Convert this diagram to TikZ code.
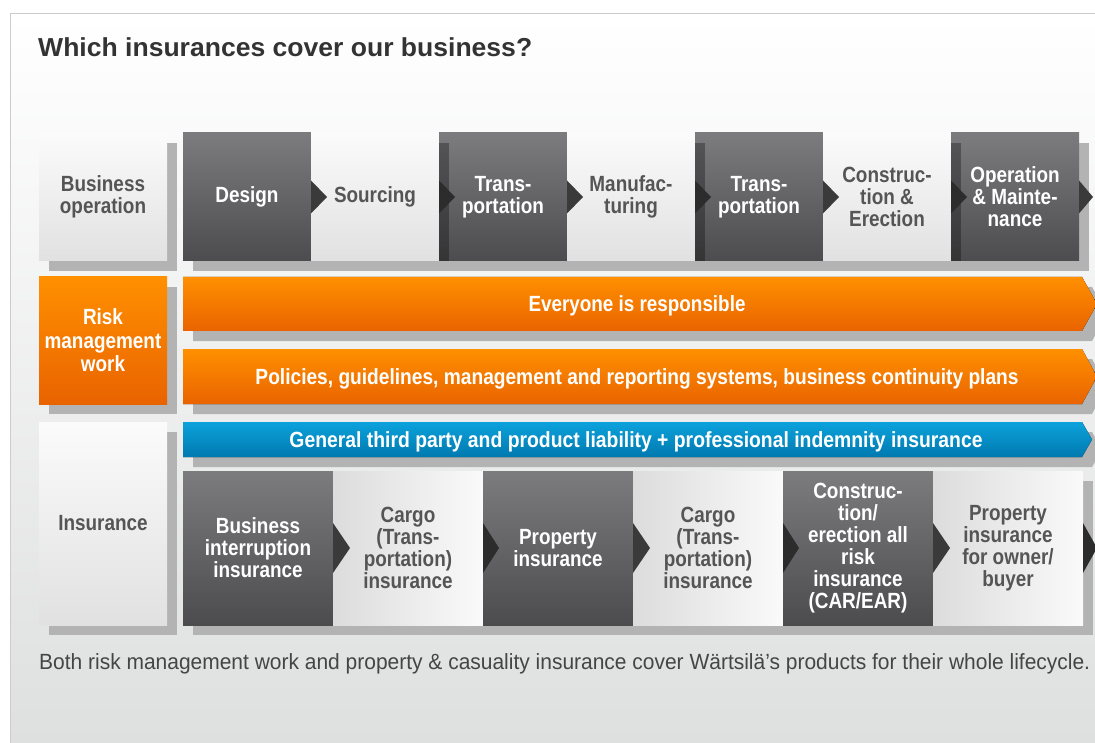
\documentclass[tikz,border=0pt]{standalone}
\usepackage{fontspec}
\usepackage{graphicx}
\setmainfont{Liberation Sans}
\newfontfamily\cnd[FakeStretch=0.86]{Liberation Sans}
\usetikzlibrary{shadows}
\definecolor{dtop}{HTML}{7C7C7F}
\definecolor{dbot}{HTML}{4C4C4E}
\definecolor{ltop}{HTML}{FBFBFB}
\definecolor{lbot}{HTML}{E1E1E1}
\definecolor{lleft}{HTML}{DCDCDC}
\definecolor{lright}{HTML}{FAFAFA}
\definecolor{ltext}{HTML}{555555}
\definecolor{shd}{HTML}{B3B3B3}
\definecolor{arr}{HTML}{3A3A3A}
\definecolor{arrb}{HTML}{2C2C2C}
\definecolor{otop}{HTML}{FF9000}
\definecolor{omid}{HTML}{F57400}
\definecolor{obot}{HTML}{E96300}
\definecolor{btop}{HTML}{0CA2DC}
\definecolor{bbot}{HTML}{0079AF}
\definecolor{framec}{HTML}{CCCCCC}
\definecolor{bgbot}{HTML}{DEDFDF}
\definecolor{titlec}{HTML}{333333}
\definecolor{footc}{HTML}{454545}
\tikzset{
  dropsh/.style={drop shadow={shadow xshift=10pt, shadow yshift=-10pt, opacity=1, fill=shd}},
  cellbase/.style={rectangle, inner sep=0pt, outer sep=0pt, anchor=north west, align=center,
    font=\cnd\bfseries\fontsize{22}{22}\selectfont, dropsh},
  dcell/.style={cellbase, top color=dtop, bottom color=dbot, text=white},
  lcellv/.style={cellbase, top color=ltop, bottom color=lbot, text=ltext},
  lcellh/.style={cellbase, left color=lleft, right color=lright, text=ltext},
  ocell/.style={cellbase, top color=otop, bottom color=obot, text=white, font=\cnd\bfseries\fontsize{22}{23.5}\selectfont},
  rowa/.style={minimum width=128pt, minimum height=128pt},
  rowc/.style={minimum width=150pt, minimum height=154pt},
  tri/.style={fill=arr},
  trib/.style={fill=arrb},
  strip/.style={fill=black, opacity=0.3},
  bartext/.style={anchor=base, inner sep=0pt, text=white, font=\cnd\bfseries\fontsize{22}{22}\selectfont},
}
\begin{document}
\begin{tikzpicture}[x=1pt,y=-1pt]
\useasboundingbox (0,0) rectangle (1095,743);
\fill[white] (0,0) rectangle (1095,743);
\fill[top color=white, bottom color=bgbot] (10,14) rectangle (1096,744);
\draw[framec, line width=1pt] (10,744) -- (10,14) -- (1096,14);

% title
\node[anchor=base west, inner sep=0pt, text=titlec] (title) at (38,56.5)
  {\resizebox{494pt}{\height}{\bfseries\fontsize{26}{26}\selectfont Which insurances cover our business?}};

% row labels
\node[lcellv, rowa] (bizop) at (39,133) {Business\\operation};
\node[ocell, minimum width=128pt, minimum height=127pt] (risk) at (39,277) {Risk\\management\\work};
\node[lcellv, minimum width=128pt, minimum height=203pt] (ins) at (39,422) {Insurance};

% row 1: business operation
\node[dcell, rowa] (design) at (183,133) {Design};
\node[lcellv, rowa] (sourcing) at (311,133) {Sourcing};
\node[dcell, rowa] (transa) at (439,133) {Trans-\\portation};
\node[lcellv, rowa] (manuf) at (567,133) {Manufac-\\turing};
\node[dcell, rowa] (transb) at (695,133) {Trans-\\portation};
\node[lcellv, rowa] (constr) at (823,133) {Construc-\\tion \&\\Erection};
\node[dcell, rowa] (operat) at (951,133) {Operation\\\& Mainte-\\nance};

% strips on dark cells following light cells
\fill[strip] (transa.north west) ++(0,10) rectangle ++(10,118);
\fill[strip] (transb.north west) ++(0,10) rectangle ++(10,118);
\fill[strip] (operat.north west) ++(0,10) rectangle ++(10,118);

% row 1 connectors
\fill[tri] (design.east) ++(0,-16.5) -- ++(16,16.5) -- ++(-16,16.5) -- cycle;
\fill[trib] (sourcing.east) ++(0,-16.5) -- ++(16,16.5) -- ++(-16,16.5) -- cycle;
\fill[tri] (transa.east) ++(0,-16.5) -- ++(16,16.5) -- ++(-16,16.5) -- cycle;
\fill[trib] (manuf.east) ++(0,-16.5) -- ++(16,16.5) -- ++(-16,16.5) -- cycle;
\fill[tri] (transb.east) ++(0,-16.5) -- ++(16,16.5) -- ++(-16,16.5) -- cycle;
\fill[trib] (constr.east) ++(0,-16.5) -- ++(16,16.5) -- ++(-16,16.5) -- cycle;
\fill[tri] (operat.east) ++(0,-16.5) -- ++(14,16.5) -- ++(-14,16.5) -- cycle;

% row 2: risk management bars
\fill[dropsh, top color=otop, middle color=omid, bottom color=obot]
  (183,277) -- (1082,277) -- (1097,304) -- (1082,331) -- (183,331) -- cycle;
\node[bartext] (every) at (637,311.5) {\resizebox{217pt}{\height}{Everyone is responsible}};
\fill[dropsh, top color=otop, middle color=omid, bottom color=obot]
  (183,349) -- (1082,349) -- (1097,376.5) -- (1082,404) -- (183,404) -- cycle;
\node[bartext] (policies) at (637,384) {\resizebox{763pt}{\height}{Policies, guidelines, management and reporting systems, business continuity plans}};

% blue bar
\fill[dropsh, top color=btop, bottom color=bbot]
  (183,422) -- (1082,422) -- (1092,439.5) -- (1082,457) -- (183,457) -- cycle;
\node[bartext] (liab) at (636,447) {\resizebox{693pt}{\height}{General third party and product liability + professional indemnity insurance}};

% row 3: insurance
\node[dcell, rowc] (bi) at (183,471) {Business\\interruption\\insurance};
\node[lcellh, rowc] (cargoa) at (333,471) {Cargo\\(Trans-\\portation)\\insurance};
\node[dcell, rowc] (prop) at (483,471) {Property\\insurance};
\node[lcellh, rowc] (cargob) at (633,471) {Cargo\\(Trans-\\portation)\\insurance};
\node[dcell, rowc] (car) at (783,471) {Construc-\\tion/\\erection all\\risk\\insurance\\(CAR/EAR)};
\node[lcellh, rowc] (owner) at (933,471) {Property\\insurance\\for owner/\\buyer};

% row 3 connectors
\fill[tri] (bi.east) ++(0,-25) -- ++(17,25) -- ++(-17,25) -- cycle;
\fill[trib] (cargoa.east) ++(0,-25) -- ++(16,25) -- ++(-16,25) -- cycle;
\fill[tri] (prop.east) ++(0,-25) -- ++(17,25) -- ++(-17,25) -- cycle;
\fill[trib] (cargob.east) ++(0,-25) -- ++(16,25) -- ++(-16,25) -- cycle;
\fill[tri] (car.east) ++(0,-25) -- ++(17,25) -- ++(-17,25) -- cycle;
\fill[trib] (owner.east) ++(0,-25) -- ++(14,25) -- ++(-14,25) -- cycle;

% footer
\node[anchor=base west, inner sep=0pt, text=footc] (foot) at (39,669)
  {\resizebox{1051pt}{\height}{\cnd\fontsize{22}{22}\selectfont Both risk management work and property \& casuality insurance cover Wärtsilä’s products for their whole lifecycle.}};
\end{tikzpicture}
\end{document}
